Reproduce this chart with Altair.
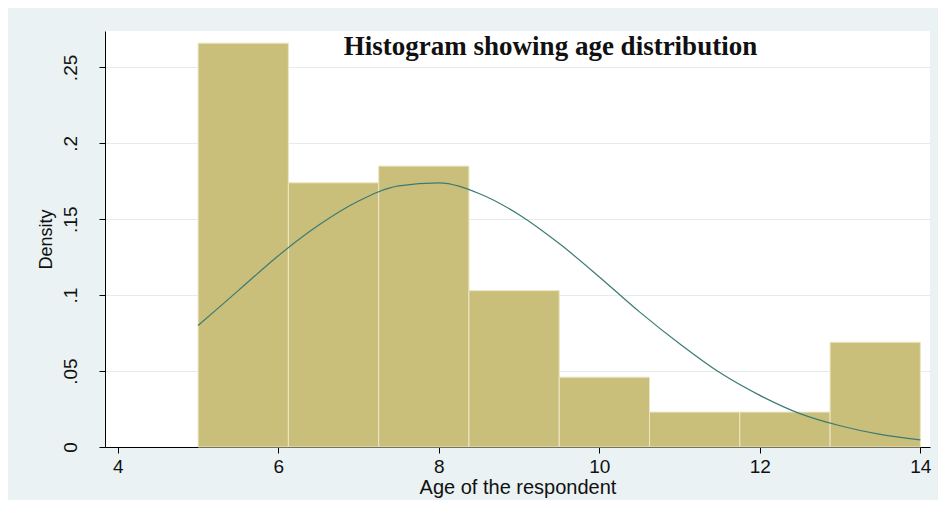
import altair as alt
import pandas as pd

# Histogram bins (age of respondent) and densities
bin_start = [5.0, 6.125, 7.25, 8.375, 9.5, 10.625, 11.75, 12.875]
bin_end = [6.125, 7.25, 8.375, 9.5, 10.625, 11.75, 12.875, 14.0]
density = [0.266, 0.174, 0.185, 0.103, 0.046, 0.023, 0.023, 0.069]

# Normal density curve
curve_x = [5, 5.5, 6, 6.5, 7, 7.5, 8, 8.5, 9, 9.5, 10, 10.5, 11, 11.5, 12, 12.5, 13, 13.5, 14]
curve_y = [0.080, 0.103, 0.126, 0.146, 0.162, 0.172, 0.174, 0.167, 0.153, 0.134,
           0.112, 0.089, 0.068, 0.049, 0.034, 0.022, 0.014, 0.0083, 0.0047]

x_ticks = [4, 6, 8, 10, 12, 14]
y_ticks = [0, 0.05, 0.1, 0.15, 0.2, 0.25]

bars = pd.DataFrame({"start": bin_start, "end": bin_end, "density": density})
curve = pd.DataFrame({"age": curve_x, "dens": curve_y})

FONT = "Liberation Sans"

xscale = alt.Scale(domain=[3.84, 14.12], nice=False, zero=False)
yscale = alt.Scale(domain=[0, 0.274], nice=False)

xaxis = alt.Axis(values=x_ticks, format="d", title="Age of the respondent", grid=False,
                 labelFont=FONT, labelFontSize=19, titleFont=FONT, titleFontSize=20,
                 titleFontWeight="normal", labelColor="#111", titleColor="#111",
                 domainColor="#000", tickColor="#000", tickSize=6, labelPadding=4,
                 titlePadding=1)
yaxis = alt.Axis(values=y_ticks, title="Density", grid=True, gridColor="#E4ECEE",
                 labelExpr="datum.value == 0 ? '0' : replace(format(datum.value, '.2~f'), '0.', '.')",
                 labelAngle=270, labelAlign="center", labelBaseline="bottom",
                 labelFont=FONT, labelFontSize=19, titleFont=FONT, titleFontSize=18,
                 titleFontWeight="normal", labelColor="#111", titleColor="#111",
                 domainColor="#000", tickColor="#000", tickSize=6, labelPadding=19,
                 titlePadding=6)

bar_layer = alt.Chart(bars).mark_rect(
    color="#C9BF7B", stroke="#ECE6C4", strokeWidth=1
).encode(
    x=alt.X("start:Q", scale=xscale, axis=xaxis),
    x2="end:Q",
    y=alt.Y("density:Q", scale=yscale, axis=yaxis),
    y2=alt.datum(0),
)

line_layer = alt.Chart(curve).mark_line(
    color="#3B7B74", strokeWidth=1.2, interpolate="monotone"
).encode(
    x=alt.X("age:Q", scale=xscale),
    y=alt.Y("dens:Q", scale=yscale),
)

chart = alt.layer(bar_layer, line_layer).properties(
    width=825,
    height=416,
    padding={"left": 97, "top": 23, "right": 8, "bottom": 53},
    autosize=alt.AutoSizeParams(type="none"),
    title=alt.TitleParams(
        "Histogram showing age distribution",
        font="Liberation Serif", fontSize=27, fontWeight="bold", color="#111",
        anchor="middle", dx=33, offset=-30, baseline="top",
    ),
).configure(background="#EAF2F3").configure_view(fill="white", strokeWidth=0)

chart.save("out.html", embed_options={"renderer": "svg", "actions": False})
